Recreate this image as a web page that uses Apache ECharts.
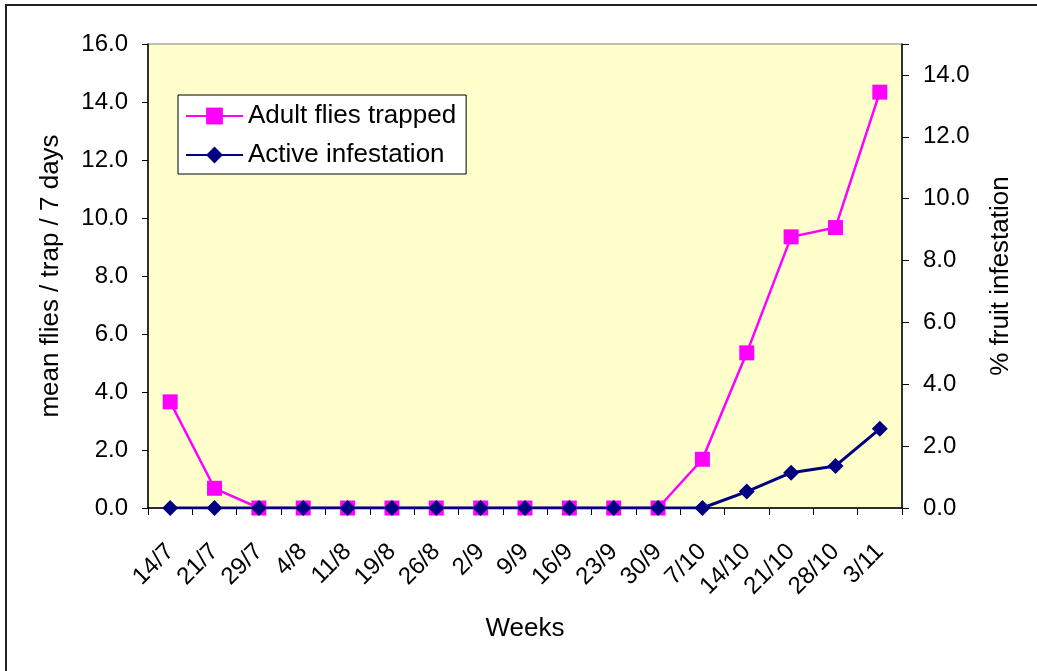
<!DOCTYPE html>
<html>
<head>
<meta charset="utf-8">
<title>Adult flies trapped / Active infestation</title>
<script src="https://cdn.jsdelivr.net/npm/echarts@6/dist/echarts.min.js"></script>
<style>
  html, body { margin: 0; padding: 0; background: #fff; }
  #fly-chart { width: 1037px; height: 671px; }
</style>
</head>
<body>
<div id="fly-chart"></div>
<script>
// 周次（X轴）
const weeks = ['14/7', '21/7', '29/7', '4/8', '11/8', '19/8', '26/8', '2/9', '9/9',
  '16/9', '23/9', '30/9', '7/10', '14/10', '21/10', '28/10', '3/11']
// mean flies / trap / 7 days（左轴）
const adultFlies = [3.66, 0.68, 0, 0, 0, 0, 0, 0, 0, 0, 0, 0, 1.68, 5.35, 9.35, 9.67, 14.34]
// % fruit infestation（右轴）
const activeInfestation = [0, 0, 0, 0, 0, 0, 0, 0, 0, 0, 0, 0, 0, 0.53, 1.14, 1.36, 2.56]

const font = 'Liberation Sans, Arial, sans-serif'
const myChart = echarts.init(document.getElementById('fly-chart'))

const option = {
  backgroundColor: '#fff',
  textStyle: { fontFamily: font },
  // 外框
  graphic: [
    {
      type: 'rect',
      silent: true,
      shape: { x: 6, y: 5, width: 1100, height: 700 },
      style: { fill: 'none', stroke: '#222', lineWidth: 2 }
    }
  ],
  grid: {
    left: 148,
    right: 135,
    top: 44,
    bottom: 163,
    show: true,
    backgroundColor: '#FFFFCC',
    borderColor: '#808080',
    borderWidth: 1
  },
  legend: {
    orient: 'vertical',
    left: 178,
    top: 95,
    backgroundColor: '#fff',
    borderColor: '#000',
    borderWidth: 1,
    padding: [8, 10, 6, 7],
    itemWidth: 57,
    itemHeight: 21,
    itemGap: 13,
    textStyle: { fontFamily: font, fontSize: 26, color: '#000' },
    data: ['Adult flies trapped', 'Active infestation']
  },
  xAxis: {
    type: 'category',
    boundaryGap: true,
    data: weeks,
    name: 'Weeks',
    nameLocation: 'middle',
    nameGap: 108,
    nameTextStyle: { fontFamily: font, fontSize: 26, color: '#000' },
    axisLine: { lineStyle: { color: '#000', width: 1.5 } },
    axisTick: { show: true, length: 7, lineStyle: { color: '#000' } },
    axisLabel: {
      interval: 0,
      rotate: 45,
      margin: 40,
      fontFamily: font,
      fontSize: 24,
      color: '#000'
    },
    splitLine: { show: false }
  },
  yAxis: [
    {
      type: 'value',
      min: 0,
      max: 16,
      interval: 2,
      name: 'mean flies / trap / 7 days',
      nameLocation: 'middle',
      nameGap: 84,
      nameTextStyle: { fontFamily: font, fontSize: 26, color: '#000' },
      axisLine: { show: true, lineStyle: { color: '#000', width: 1.5 } },
      axisTick: { show: true, length: 6, lineStyle: { color: '#000' } },
      axisLabel: {
        margin: 20,
        fontFamily: font,
        fontSize: 24,
        color: '#000',
        formatter: (v) => v.toFixed(1)
      },
      splitLine: { show: false }
    },
    {
      type: 'value',
      min: 0,
      max: 15,
      interval: 2,
      position: 'right',
      name: '% fruit infestation',
      nameLocation: 'middle',
      nameGap: 86,
      nameTextStyle: { fontFamily: font, fontSize: 26, color: '#000' },
      axisLine: { show: true, lineStyle: { color: '#000', width: 1.5 } },
      axisTick: { show: true, length: 7, lineStyle: { color: '#000' } },
      axisLabel: {
        margin: 21,
        fontFamily: font,
        fontSize: 24,
        color: '#000',
        // 15 只是轴顶，不显示刻度标签
        formatter: (v) => (v > 14 ? '' : v.toFixed(1))
      },
      splitLine: { show: false }
    }
  ],
  series: [
    {
      name: 'Adult flies trapped',
      type: 'line',
      yAxisIndex: 0,
      symbol: 'rect',
      symbolSize: 15,
      color: '#FF00FF',
      lineStyle: { color: '#FF00FF', width: 2.5 },
      itemStyle: { color: '#FF00FF' },
      data: adultFlies
    },
    {
      name: 'Active infestation',
      type: 'line',
      yAxisIndex: 1,
      symbol: 'diamond',
      symbolSize: 16,
      color: '#000080',
      lineStyle: { color: '#000080', width: 3 },
      itemStyle: { color: '#000080' },
      data: activeInfestation
    }
  ]
}
myChart.setOption(option)
</script>
</body>
</html>
